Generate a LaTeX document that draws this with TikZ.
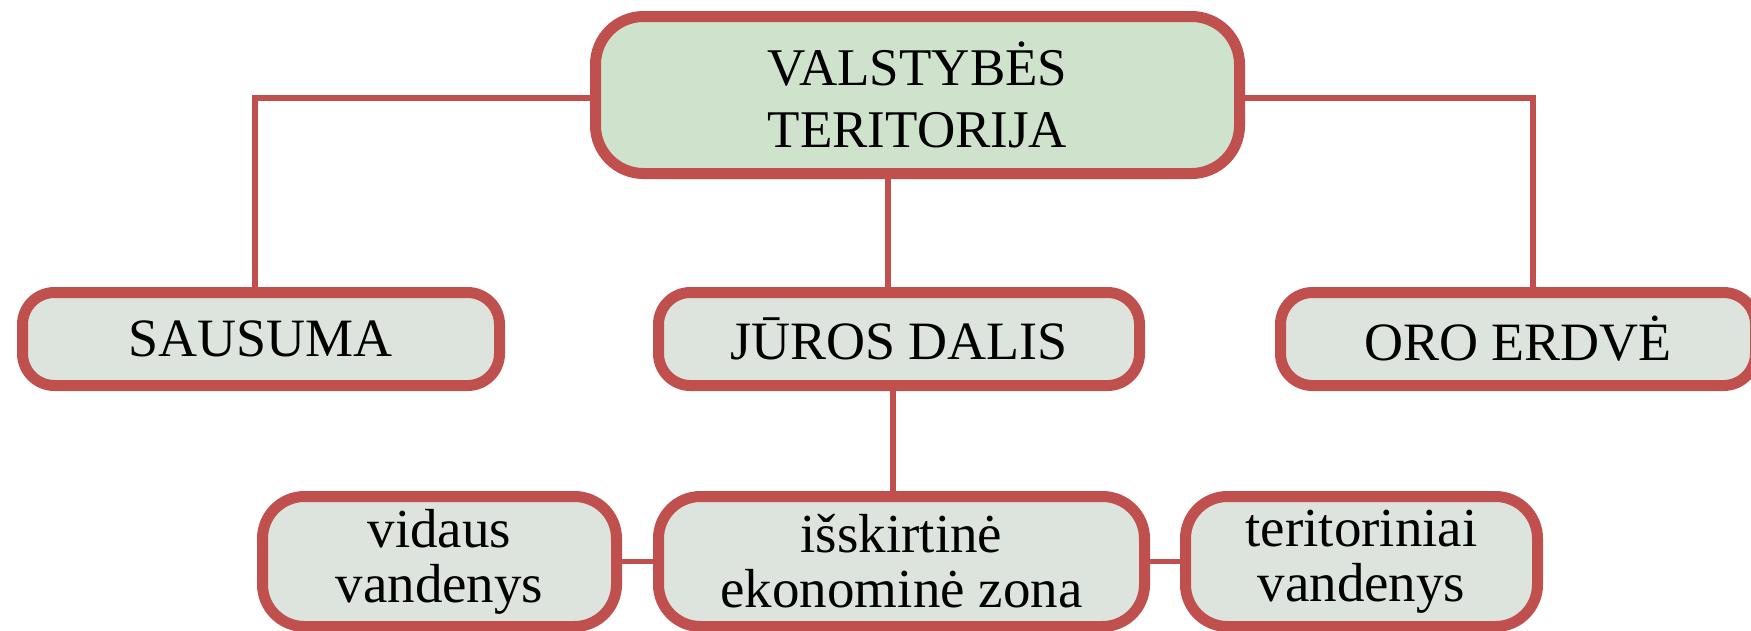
\documentclass[tikz,border=0pt]{standalone}
\usepackage{fontspec}
\setmainfont{Liberation Serif}
\definecolor{boxred}{RGB}{192,80,77}
\definecolor{topgreen}{RGB}{207,227,204}
\definecolor{boxgrey}{RGB}{221,228,221}
\begin{document}
\begin{tikzpicture}[x=1pt,y=-1pt,
topbox/.style={
% The shape:
rectangle,
draw=boxred,
line width=11pt,
fill=topgreen,
rounded corners=48pt,
minimum width=644pt,
minimum height=157pt,
align=center,
font=\fontsize{53}{62}\selectfont
},
catbox/.style={
rectangle,
draw=boxred,
line width=11pt,
fill=boxgrey,
rounded corners=32pt,
minimum height=93pt,
font=\fontsize{54}{62}\selectfont
},
subbox/.style={
rectangle,
draw=boxred,
line width=11pt,
fill=boxgrey,
rounded corners=42pt,
minimum height=130pt,
align=center,
font=\fontsize{55}{55}\selectfont
},
link/.style={draw=boxred,line width=5.5pt}
]
\useasboundingbox (0,0) rectangle (1751,630);
% First row:
\node (top) [topbox] at (917.5,95) {VALSTYBĖS\\TERITORIJA};
% Second row:
\node (sausuma) [catbox,minimum width=477pt] at (261,339) {SAUSUMA};
\node (juros) [catbox,minimum width=481pt] at (899,339) {JŪROS DALIS};
\node (oro) [catbox,minimum width=475pt] at (1518,339) {ORO ERDVĖ};
% Third row:
\node (vidaus) [subbox,minimum width=354pt] at (439.5,561.5) {vidaus\\vandenys};
\node (zona) [subbox,minimum width=486pt] at (901.5,561.5) {išskirtinė\\ekonominė zona};
\node (terit) [subbox,minimum width=352pt] at (1361.5,561.5) {teritoriniai\\vandenys};
\draw [link] ([yshift=-3pt]top.west) -| ([xshift=-6pt]sausuma.north);
\draw [link] ([yshift=-3pt]top.east) -| ([xshift=15pt]oro.north);
\draw [link] ([xshift=-11pt]juros.north) -- ([xshift=-11pt]juros.north |- top.south);
\draw [link] ([xshift=-6pt]juros.south) -- ([xshift=-6pt]juros.south |- zona.north);
\path (vidaus) edge[link] (zona) (zona) edge[link] (terit);
\end{tikzpicture}
\end{document}
